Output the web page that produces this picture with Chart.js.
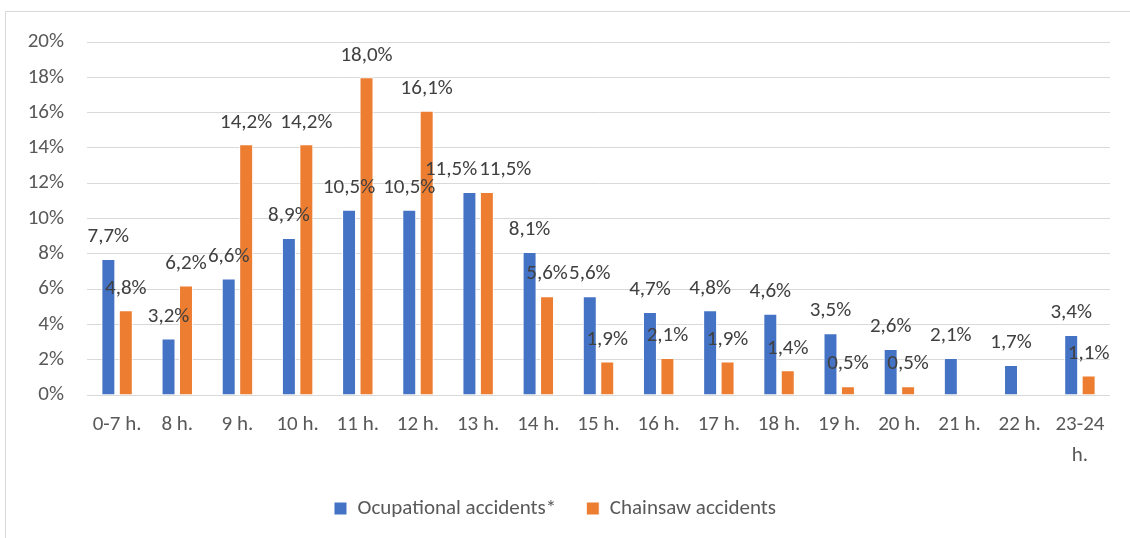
<!DOCTYPE html>
<html>
<head>
<meta charset="utf-8">
<script src="https://cdn.jsdelivr.net/npm/chart.js@4.4.1/dist/chart.umd.min.js"></script>
<style>
  html, body { margin: 0; padding: 0; background: #ffffff; }
  #frame { position: absolute; left: 5px; top: 11px; width: 1140px; height: 540px; border: 1px solid #d9d9d9; }
  #wrap { position: absolute; left: 0; top: 0; width: 1130px; height: 538px; }
</style>
</head>
<body>
<div id="frame"></div>
<div id="wrap"><canvas id="chart_hours"></canvas></div>
<script>
// categories and values
const hourLabels = ['0-7 h.', '8 h.', '9 h.', '10 h.', '11 h.', '12 h.', '13 h.', '14 h.', '15 h.',
    '16 h.', '17 h.', '18 h.', '19 h.', '20 h.', '21 h.', '22 h.', ['23-24', 'h.']];
const occupationalValues = [7.7, 3.2, 6.6, 8.9, 10.5, 10.5, 11.5, 8.1, 5.6, 4.7, 4.8, 4.6, 3.5, 2.6, 2.1, 1.7, 3.4];
const chainsawValues = [4.8, 6.2, 14.2, 14.2, 18.0, 16.1, 11.5, 5.6, 1.9, 2.1, 1.9, 1.4, 0.5, 0.5, null, null, 1.1];
const yTicks = [0, 2, 4, 6, 8, 10, 12, 14, 16, 18, 20];

const fontFamily = 'Carlito, Lato, "Liberation Sans", sans-serif';
const textColor = '#595959';
const fontSize = 21;

function formatPercent(v) {
    return v.toFixed(1).replace('.', ',') + '%';
}

// Draw value labels above each bar (Excel "outside end"),
// pushing apart the two labels of a category when they collide
const barLabels = {
    id: 'barLabels',
    afterDatasetsDraw(chart) {
        const ctx = chart.ctx;
        ctx.save();
        ctx.font = fontSize + 'px ' + fontFamily;
        ctx.fillStyle = '#404040';
        ctx.textAlign = 'center';
        ctx.textBaseline = 'middle';
        const m0 = chart.getDatasetMeta(0);
        const m1 = chart.getDatasetMeta(1);
        chart.data.labels.forEach((_, j) => {
            const items = [];
            [m0, m1].forEach((meta, i) => {
                const v = chart.data.datasets[i].data[j];
                if (v === null || v === undefined) return;
                const bar = meta.data[j];
                const text = formatPercent(v);
                items.push({ text, x: bar.x, y: bar.y - 22, w: ctx.measureText(text).width });
            });
            if (items.length === 2) {
                const [a, b] = items;
                const overlapX = (a.w + b.w) / 2 + 2 - (b.x - a.x);
                if (overlapX > 0 && Math.abs(a.y - b.y) < fontSize) {
                    a.x -= overlapX / 2;
                    b.x += overlapX / 2;
                }
            }
            items.forEach(it => ctx.fillText(it.text, it.x, it.y));
        });
        ctx.restore();
    }
};

const ctx = document.getElementById('chart_hours').getContext('2d');
new Chart(ctx, {
    type: 'bar',
    data: {
        labels: hourLabels,
        datasets: [{
            label: 'Ocupational accidents*',
            data: occupationalValues,
            backgroundColor: '#4472c4',
            borderColor: '#ffffff',
            borderWidth: 1,
            categoryPercentage: 0.58,
            barPercentage: 0.8
        }, {
            label: 'Chainsaw accidents',
            data: chainsawValues,
            backgroundColor: '#ed7d31',
            borderColor: '#ffffff',
            borderWidth: 1,
            categoryPercentage: 0.58,
            barPercentage: 0.8
        }]
    },
    options: {
        responsive: true,
        maintainAspectRatio: false,
        animation: false,
        layout: {
            padding: { left: 0, right: 20, top: 42, bottom: 9 }
        },
        plugins: {
            legend: {
                position: 'bottom',
                labels: {
                    boxWidth: 13,
                    boxHeight: 13,
                    padding: 30,
                    color: textColor,
                    font: { size: fontSize, family: fontFamily }
                }
            },
            tooltip: { enabled: false }
        },
        scales: {
            y: {
                min: 0,
                max: 20,
                afterFit: s => { s.width = 87; },
                afterBuildTicks: s => { s.ticks = yTicks.map(v => ({ value: v })); },
                grid: {
                    color: '#d9d9d9',
                    lineWidth: 1,
                    drawTicks: false
                },
                border: { display: false },
                ticks: {
                    padding: 23,
                    color: textColor,
                    font: { size: fontSize, family: fontFamily },
                    callback: v => v + '%'
                }
            },
            x: {
                afterFit: s => { s.height = 73; },
                grid: { display: false },
                border: { display: false },
                ticks: {
                    autoSkip: false,
                    maxRotation: 0,
                    minRotation: 0,
                    padding: 7,
                    color: textColor,
                    font: { size: fontSize, family: fontFamily, lineHeight: 1.45 }
                }
            }
        }
    },
    plugins: [barLabels]
});
</script>
</body>
</html>
